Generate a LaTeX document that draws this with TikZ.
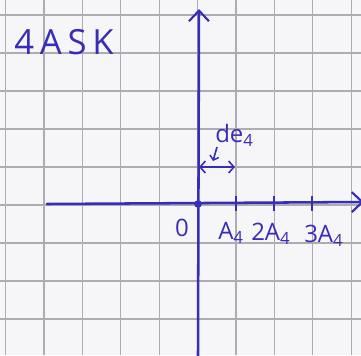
\documentclass[tikz,border=0pt]{standalone}
\usepackage{fontspec}
\setmainfont{Open Sans}
\usetikzlibrary{arrows.meta}
\definecolor{ink}{RGB}{55,45,185}
\definecolor{gridc}{RGB}{172,172,178}
\definecolor{paper}{RGB}{246,246,249}
\tikzset{
  axis/.style={ink, line width=1.9pt, line cap=round},
  gridline/.style={gridc, line width=0.9pt},
  lbl/.style={ink, font=\fontsize{18}{20}\selectfont, inner sep=0pt},
  tickmark/.style={ink, line width=1.3pt},
  headarrow/.style={-{Straight Barb[length=8pt,width=15pt,line width=1.6pt]}},
}
\begin{document}
\begin{tikzpicture}[x=0.75pt,y=-0.75pt]
\useasboundingbox (0,0) rectangle (361,355);
\fill[paper] (0,0) rectangle (361,355);
% grid
\foreach \i in {0,...,9} {
  \draw[gridline] ({5.5+38.4*\i},0) -- ({5.5+38.4*\i},355);
}
\foreach \j in {0,...,9} {
  \draw[gridline] (0,{15+38*\j}) -- (361,{15+38*\j});
}
% axes
\coordinate (xs) at (47,204);
\coordinate (xe) at (364,202);
\coordinate (ys) at (198,356);
\coordinate (ye) at (199,9);
\coordinate (O) at (198,204);
\draw[axis, headarrow] (xs) -- (xe);
\draw[axis, headarrow] (ys) -- (ye);
\fill[ink] (O) circle (3.8);
% ticks
\foreach \n/\x in {t1/236,t2/274,t3/312} {
  \coordinate (\n a) at (\x,196);
  \coordinate (\n b) at (\x,211);
  \draw[tickmark] (\n a) -- (\n b);
}
% labels
\node[ink, font=\fontsize{26}{30}\selectfont, inner sep=0pt, anchor=west] (title) at (14,42) {4\,A\,S\,K};
\node[lbl] (zero) at (182,228) {0};
\node[lbl, anchor=west] (a1) at (218,233) {A\textsubscript{4}};
\node[lbl, anchor=west] (a2) at (251,234) {2A\textsubscript{4}};
\node[lbl, anchor=west] (a3) at (304,236) {3A\textsubscript{4}};
\node[lbl, anchor=west] (de) at (215,135) {de\textsubscript{4}};
% distance arrow
\coordinate (dl) at (199,167);
\coordinate (dr) at (235,167);
\draw[ink, line width=1.3pt, {Straight Barb[length=4pt,width=9pt,line width=1.2pt]}-{Straight Barb[length=4pt,width=9pt,line width=1.2pt]}] (dl) -- (dr);
\coordinate (pa) at (217,147);
\coordinate (pb) at (213,161);
\draw[ink, line width=1.2pt, -{Straight Barb[length=3pt,width=7pt,line width=1.1pt]}] (pa) -- (pb);
\end{tikzpicture}
\end{document}
